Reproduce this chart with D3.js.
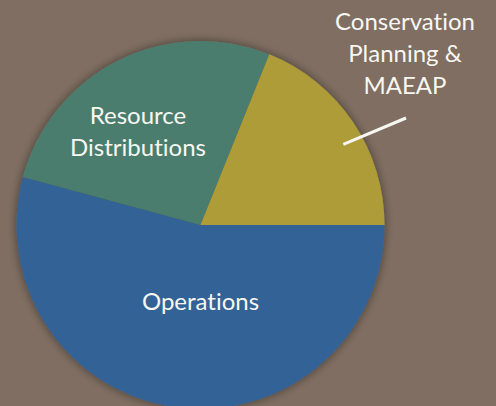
<!DOCTYPE html>
<html><head><meta charset="utf-8">
<script src="https://cdn.jsdelivr.net/npm/d3@7"></script>
<style>html,body{margin:0;padding:0;background:#7f6e61;overflow:hidden} text{font-variant-ligatures:none;font-feature-settings:"liga" 0}</style>
</head><body>
<svg id="chart" width="496" height="406"></svg>
<script>
const categories = ["Operations", "Resource Distributions", "Conservation Planning & MAEAP"];
const values = [54.2, 26.9, 18.9];
const colors = ["#336296", "#4c7d6e", "#ae9c39"];
const labelLines = [["Operations"], ["Resource", "Distributions"], ["Conservation", "Planning &", "MAEAP"]];

const W = 496, H = 406, cx = 200.5, cy = 225, R = 184;
const svg = d3.select("#chart");
const defs = svg.append("defs");
const f = defs.append("filter").attr("id","sh").attr("x","-20%").attr("y","-20%").attr("width","140%").attr("height","140%");
f.append("feDropShadow").attr("dx",0).attr("dy",0).attr("stdDeviation",5).attr("flood-color","#000").attr("flood-opacity",0.45);

const pie = d3.pie().sort(null).value(d => d).startAngle(Math.PI/2).endAngle(Math.PI/2 + 2*Math.PI);
const arcs = pie(values);
const arc = d3.arc().innerRadius(0).outerRadius(R);
const g = svg.append("g").attr("transform", `translate(${cx},${cy})`);
g.append("g").attr("filter","url(#sh)").selectAll("path").data(arcs).join("path")
  .attr("d", arc).attr("fill", (d,i) => colors[i]);

const font = "Lato, 'Open Sans', sans-serif";
function addLabel(lines, x, y, size, lh) {
  const t = svg.append("text").attr("x", x).attr("y", y).attr("text-anchor","middle")
    .attr("font-family", font).attr("font-size", size).attr("fill", "#f7f7f2");
  lines.forEach((l, i) => t.append("tspan").attr("x", x).attr("dy", i ? lh : 0).text(l));
}
addLabel(labelLines[0], 200.5, 310, 24, 32);
addLabel(labelLines[1], 138, 124, 24, 32);
addLabel(labelLines[2], 405, 30, 24, 32);

// leader line from Conservation slice
const mid = (arcs[2].startAngle + arcs[2].endAngle) / 2;
const p = d3.pointRadial(mid + 0.08, 164);
svg.append("line").attr("x1", cx + p[0]).attr("y1", cy + p[1]).attr("x2", 406).attr("y2", 118)
  .attr("stroke", "#f7f7f2").attr("stroke-width", 3);
</script>
</body></html>
